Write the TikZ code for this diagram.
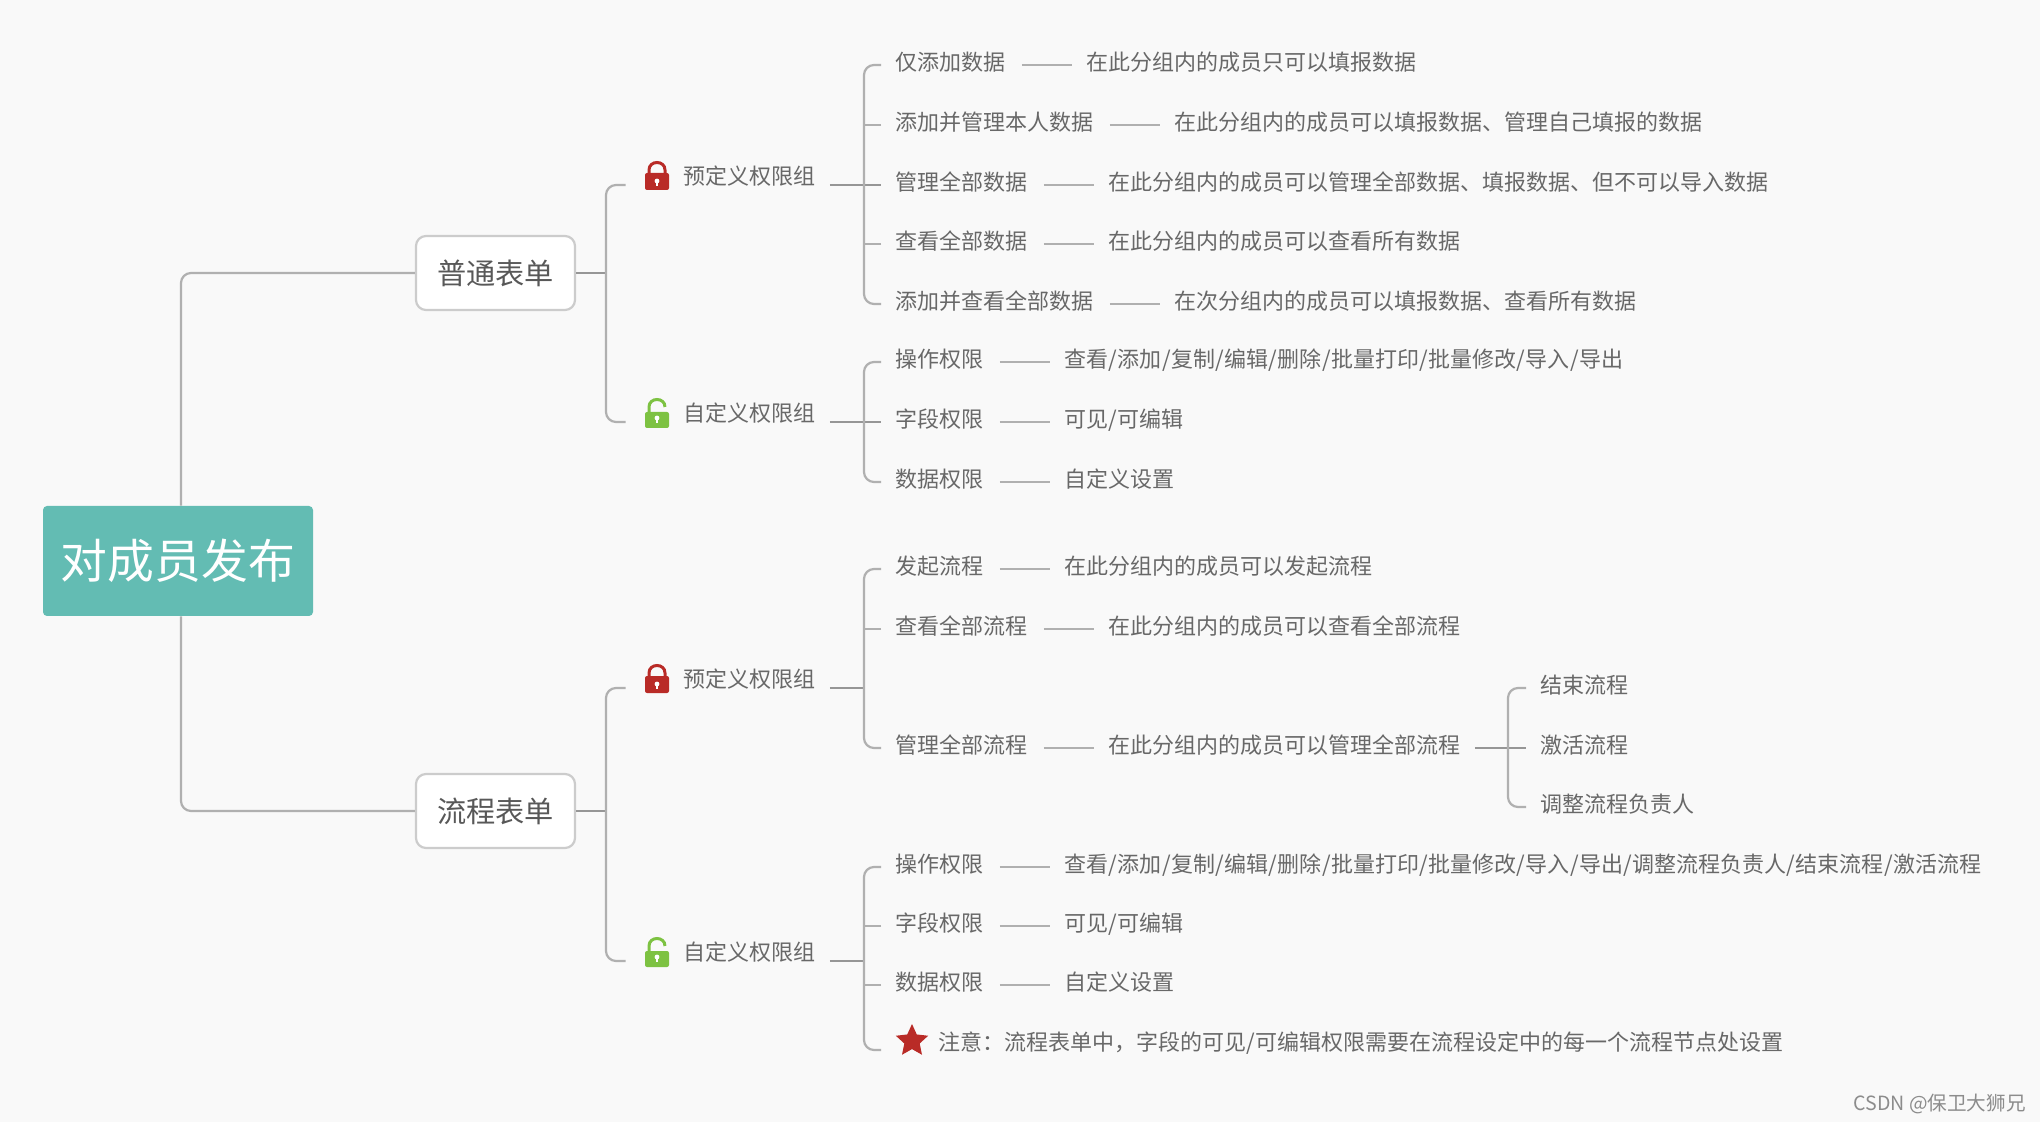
\documentclass[tikz,border=0pt]{standalone}
\usepackage{fontspec}
\setmainfont{Noto Sans CJK SC}
\usetikzlibrary{shapes.geometric,calc}
\definecolor{bgc}{HTML}{F9F9F9}
\definecolor{linec}{HTML}{B0B0B0}
\definecolor{txtc}{HTML}{686868}
\definecolor{rootc}{HTML}{63BCB3}
\definecolor{redc}{HTML}{B92B27}
\definecolor{greenc}{HTML}{7DC242}
\tikzset{
  x=0.5pt,y=-0.5pt,
  conn/.style={draw=linec,line width=1.1pt,rounded corners=5pt},
  link/.style={draw=linec,line width=1.1pt,shorten <=1pt},
  stub/.style={draw=linec,line width=1.1pt},
  heavy/.style={draw=linec!85!black,line width=1.3pt},
  rootbox/.style={fill=rootc,draw=none,rounded corners=2pt,minimum width=135pt,minimum height=55pt,inner sep=0pt,text=white,font=\fontsize{23.4}{26}\selectfont},
  formbox/.style={fill=white,draw=black!20,line width=1.1pt,rounded corners=5pt,minimum width=79.5pt,minimum height=37pt,inner sep=0pt,text=txtc!85!black,font=\fontsize{14.6}{17}\selectfont},
  label/.style={anchor=west,inner xsep=7pt,inner ysep=0pt,text height=9pt,text depth=3.4pt,text=txtc,font=\fontsize{11}{13}\selectfont},
  iconbox/.style={minimum width=31pt,minimum height=10pt,inner sep=0pt},
}
\newcommand{\slsh}{\kern0.18pt/\kern0.18pt}
\newcommand{\lockhole}[1]{%
  \fill[white] ($(#1)+(0,-4)$) circle (1.2pt);
  \fill[white] ($(#1)+(-1,-4)$) rectangle ($(#1)+(1,1)$);
}
\newcommand{\redlock}[1]{%
  \draw[redc,line width=1.5pt] ($(#1)+(-8,-11)$) -- ($(#1)+(-8,-15)$) .. controls ($(#1)+(-8,-25)$) and ($(#1)+(8,-25)$) .. ($(#1)+(8,-15)$) -- ($(#1)+(8,-11)$);
  \fill[redc,rounded corners=1pt] ($(#1)+(-12,-12)$) rectangle ($(#1)+(12,5)$);
  \lockhole{#1}
}
\newcommand{\greenlock}[1]{%
  \draw[greenc,line width=1.5pt] ($(#1)+(-8,-10)$) -- ($(#1)+(-8,-15)$) .. controls ($(#1)+(-8,-25)$) and ($(#1)+(8,-25)$) .. ($(#1)+(8,-15)$);
  \fill[greenc,rounded corners=1pt] ($(#1)+(-12,-10)$) rectangle ($(#1)+(12,6)$);
  \lockhole{#1}
}
\begin{document}
\begin{tikzpicture}
\useasboundingbox (0,0) rectangle (2040,1122);
\fill[bgc] (0,0) rectangle (2040,1122);

% main nodes
\node[rootbox] (root) at (178,561) {对成员发布};
\node[formbox] (f1) at (495.5,273) {普通表单};
\node[formbox] (f2) at (495.5,811) {流程表单};

% groups
\node[iconbox] (l1) at (657,185) {};
\node[iconbox] (l2) at (657,422) {};
\node[iconbox] (l3) at (657,688) {};
\node[iconbox] (l4) at (657,961) {};
\node[label] (g1) at (669,185) {\raisebox{3pt}{预定义权限组}};
\node[label] (g2) at (669,422) {\raisebox{3pt}{自定义权限组}};
\node[label] (g3) at (669,688) {\raisebox{3pt}{预定义权限组}};
\node[label] (g4) at (669,961) {\raisebox{3pt}{自定义权限组}};
\redlock{l1}\greenlock{l2}\redlock{l3}\greenlock{l4}

% group 1 items
\node[label] (a1) at (881,65) {仅添加数据};
\node[label] (a1d) at (1072,65) {在此分组内的成员只可以填报数据};
\node[label] (a2) at (881,125) {添加并管理本人数据};
\node[label] (a2d) at (1160,125) {在此分组内的成员可以填报数据、管理自己填报的数据};
\node[label] (a3) at (881,185) {管理全部数据};
\node[label] (a3d) at (1094,185) {在此分组内的成员可以管理全部数据、填报数据、但不可以导入数据};
\node[label] (a4) at (881,244) {查看全部数据};
\node[label] (a4d) at (1094,244) {在此分组内的成员可以查看所有数据};
\node[label] (a5) at (881,304) {添加并查看全部数据};
\node[label] (a5d) at (1160,304) {在次分组内的成员可以填报数据、查看所有数据};

% group 2 items
\node[label] (b1) at (881,362) {操作权限};
\node[label] (b1d) at (1050,362) {查看\slsh 添加\slsh 复制\slsh 编辑\slsh 删除\slsh 批量打印\slsh 批量修改\slsh 导入\slsh 导出};
\node[label] (b2) at (881,422) {字段权限};
\node[label] (b2d) at (1050,422) {可见/可编辑};
\node[label] (b3) at (881,482) {数据权限};
\node[label] (b3d) at (1050,482) {自定义设置};

% group 3 items
\node[label] (c1) at (881,569) {发起流程};
\node[label] (c1d) at (1050,569) {在此分组内的成员可以发起流程};
\node[label] (c2) at (881,629) {查看全部流程};
\node[label] (c2d) at (1094,629) {在此分组内的成员可以查看全部流程};
\node[label] (c3) at (881,748) {管理全部流程};
\node[label] (c3d) at (1094,748) {在此分组内的成员可以管理全部流程};
\node[label] (s1) at (1526,688) {结束流程};
\node[label] (s2) at (1526,748) {激活流程};
\node[label] (s3) at (1526,807) {调整流程负责人};

% group 4 items
\node[label] (d1) at (881,867) {操作权限};
\node[label] (d1d) at (1050,867) {查看\slsh 添加\slsh 复制\slsh 编辑\slsh 删除\slsh 批量打印\slsh 批量修改\slsh 导入\slsh 导出\slsh 调整流程负责人\slsh 结束流程\slsh 激活流程};
\node[label] (d2) at (881,926) {字段权限};
\node[label] (d2d) at (1050,926) {可见/可编辑};
\node[label] (d3) at (881,985) {数据权限};
\node[label] (d3d) at (1050,985) {自定义设置};
\node[star,star points=5,star point ratio=2.1,fill=redc,minimum size=17pt,inner sep=0pt] (d4s) at (912,1041) {};
\node[label] (d4) at (924,1044.5) {注意：流程表单中，字段的可见/可编辑权限需要在流程设定中的每一个流程节点处设置};
\coordinate (d4e) at (881,1050);

% trunks
\coordinate (tf) at (606,0);
\coordinate (ta) at (864,0);
\coordinate (ts) at (1508,0);

% root connectors
\draw[conn] ([xshift=1.5pt]root.north) |- (f1.west);
\draw[conn] ([xshift=1.5pt]root.south) |- (f2.west);

% form brackets
\draw[heavy] (f1.east) -- (f1.east -| tf);
\draw[heavy] (f2.east) -- (f2.east -| tf);
\draw[conn] (l1.west) -- (l1.west -| tf) -- (l2.west -| tf) -- (l2.west);
\draw[conn] (l3.west) -- (l3.west -| tf) -- (l4.west -| tf) -- (l4.west);

% group brackets
\draw[heavy] (g1.east) -- (a3.west);
\draw[conn] (a1.west) -- (a1.west -| ta) -- (a5.west -| ta) -- (a5.west);
\draw[stub] (a2.west) -- (a2.west -| ta);
\draw[stub] (a4.west) -- (a4.west -| ta);

\draw[heavy] (g2.east) -- (b2.west);
\draw[conn] (b1.west) -- (b1.west -| ta) -- (b3.west -| ta) -- (b3.west);

\draw[heavy] (g3.east) -- (g3.east -| ta);
\draw[conn] (c1.west) -- (c1.west -| ta) -- (c3.west -| ta) -- (c3.west);
\draw[stub] (c2.west) -- (c2.west -| ta);

\draw[heavy] (g4.east) -- (g4.east -| ta);
\draw[conn] (d1.west) -- (d1.west -| ta) -- (d4e -| ta) -- (d4e);
\draw[stub] (d2.west) -- (d2.west -| ta);
\draw[stub] (d3.west) -- (d3.west -| ta);

% item to description
\foreach \p in {a1,a2,a3,a4,a5,b1,b2,b3,c1,c2,c3,d1,d2,d3}{
  \draw[link] (\p.east) -- (\p d.west);
}

% sub bracket
\draw[heavy] (c3d.east) -- (s2.west);
\draw[conn] (s1.west) -- (s1.west -| ts) -- (s3.west -| ts) -- (s3.west);

% watermark
\node[anchor=east,inner sep=0pt,text=black!45,font=\fontsize{9.8}{12}\selectfont] (wm) at (2026,1103.5) {CSDN @保卫大狮兄};
\end{tikzpicture}
\end{document}
